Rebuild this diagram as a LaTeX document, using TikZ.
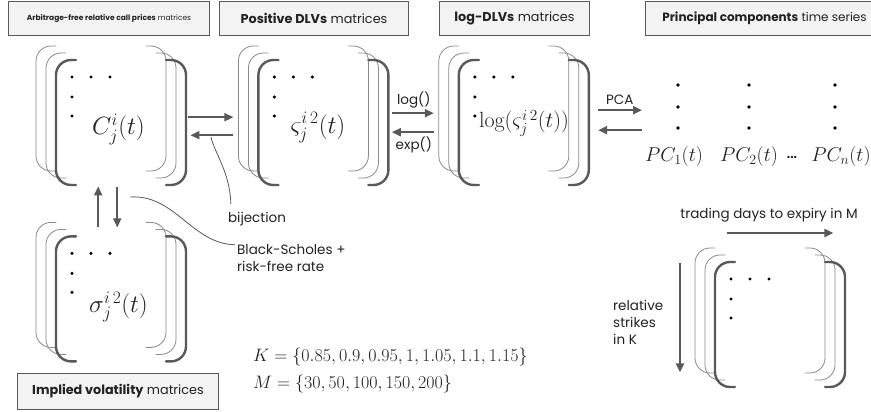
\RequirePackage{fix-cm}
\documentclass[tikz,border=0pt]{standalone}
\usepackage{fontspec}
\setsansfont{Poppins}
\usepackage{tikz}
\usetikzlibrary{arrows.meta, positioning, calc}
\definecolor{dvInk}{HTML}{222222}
\definecolor{dvLine}{HTML}{595959}
\definecolor{dvSoft}{HTML}{F3F3F3}
\definecolor{dvThin}{HTML}{8A8A8A}
\tikzset{
  dv-title/.style={
    rectangle, draw=dvLine, fill=dvSoft, line width=1pt,
    minimum height=34pt, inner sep=0pt, text=dvInk,
    font=\fontsize{12.8}{15}\selectfont\sffamily
  },
  dv-mat/.style={rectangle, minimum width=150pt, minimum height=139pt, inner sep=0pt},
  dv-math/.style={inner sep=0pt, text=dvInk},
  dv-lbl/.style={inner sep=2pt, text=dvInk, font=\fontsize{13.5}{17}\selectfont\sffamily},
  dv-flow/.style={-{Triangle[length=9pt,width=8pt]}, line width=2pt, draw=dvLine},
  dv-link/.style={draw=dvLine, line width=0.8pt},
}
\newcommand{\dvstack}[1]{%
  \foreach \k/\lw/\lc in {2/0.8pt/dvThin,1/0.8pt/dvThin,0/2.4pt/dvLine}{%
    \draw[line width=\lw, draw=\lc, rounded corners=15pt, line cap=round]
      ($(#1.north west)+(40-10*\k,14-7*\k)$) -- ++(-20,0) -- ++(0,125) -- ++(20,0);
    \draw[line width=\lw, draw=\lc, rounded corners=15pt, line cap=round]
      ($(#1.north west)+(130-10*\k,14-7*\k)$) -- ++(20,0) -- ++(0,125) -- ++(-20,0);
  }
  \foreach \dx/\dy in {36/31,55/31,74/31,36/51,36/70}
    \fill[black] ($(#1.north west)+(\dx,\dy)$) circle[radius=1.7pt];
}

\begin{document}
\begin{tikzpicture}[x=1pt, y=-1pt, font=\sffamily]
  \path[use as bounding box, fill=white] (0,0) rectangle (871,412);

  \node[dv-title, minimum width=201pt, anchor=north west,
        font=\fontsize{7.5}{9}\selectfont\sffamily]         (tC) at (8,1) {\textbf{Arbitrage-free relative call prices} matrices};
  \node[dv-title, minimum width=189pt, right=9pt of tC]  (tS) {\textbf{Positive DLVs} matrices};
  \node[dv-title, minimum width=150pt, right=30pt of tS] (tL) {\textbf{log-DLVs} matrices};
  \node[dv-title, minimum width=238pt, right=55pt of tL,
        font=\fontsize{12}{15}\selectfont\sffamily]        (tP) {\textbf{Principal components} time series};
  \node[dv-title, minimum width=201pt, minimum height=36pt,
        anchor=north west]                                (tV) at (17,373) {\textbf{Implied volatility} matrices};

  \node[dv-mat, anchor=north west] (mC) at (36,46) {};
  \node[dv-mat, right=52pt of mC]  (mS) {};
  \node[dv-mat, right=50pt of mS]  (mL) {};
  \node[dv-mat, below=37pt of mC]  (mV) {};
  \node[dv-mat, anchor=north west] (mX) at (695,248) {};
  \dvstack{mC}
  \dvstack{mS}
  \dvstack{mL}
  \dvstack{mV}
  \dvstack{mX}

  \node[dv-math, font=\fontsize{25}{30}\selectfont, anchor=base west] (eC) at ($(mC.north west)+(56,89)$) {$C_j^i(t)$};
  \node[dv-math, font=\fontsize{25}{30}\selectfont, anchor=base west] (eS) at ($(mS.north west)+(52,87)$) {$\varsigma_j^{i\,2}(t)$};
  \node[dv-math, font=\fontsize{22}{26}\selectfont, anchor=base west] (eL) at ($(mL.north west)+(40,82)$) {$\log(\varsigma_j^{i\,2}(t))$};
  \node[dv-math, font=\fontsize{25}{30}\selectfont, anchor=base west] (eV) at ($(mV.north west)+(53,90)$) {$\sigma_j^{i\,2}(t)$};

  \node[minimum width=229pt, minimum height=100pt, inner sep=0pt, anchor=north west] (pcb) at (642,72) {};
  \foreach \cx in {678,749,835}
    \foreach \cy in {85,107,128}
      \fill[black] (\cx,\cy) circle[radius=1.8pt];
  \node[dv-math, font=\fontsize{20}{24}\selectfont] (pc1) at (674,157) {$PC_1(t)$};
  \node[dv-math, font=\fontsize{20}{24}\selectfont] (pc2) at (749,157) {$PC_2(t)$};
  \node[dv-lbl, font=\fontsize{12}{14}\selectfont\sffamily\bfseries] (pcd) at (792,157) {...};
  \node[dv-math, font=\fontsize{20}{24}\selectfont] (pcn) at (841,157) {$PC_n(t)$};

  \draw[dv-flow, shorten <=2pt, shorten >=5pt] ([yshift=-1.5pt]mC.east) -- ([yshift=-1.5pt]mS.west);
  \draw[dv-flow, shorten <=5pt, shorten >=4pt] ([yshift=-19.5pt]mS.west) -- ([yshift=-19.5pt]mC.east);
  \draw[dv-flow, shorten <=3pt, shorten >=5pt] ([yshift=2.5pt]mS.east) -- node[dv-lbl, above=2pt]{log()} ([yshift=2.5pt]mL.west);
  \draw[dv-flow, shorten <=5pt, shorten >=3pt] ([yshift=-16.5pt]mL.west) -- node[dv-lbl, below=2pt]{exp()} ([yshift=-16.5pt]mS.east);
  \draw[dv-flow, shorten <=9pt] ([yshift=5.5pt]mL.east) -- node[dv-lbl, above=3pt, pos=0.58]{PCA} ([yshift=5.5pt]mL.east -| pcb.west);
  \draw[dv-flow, shorten >=9pt] ([yshift=-14.5pt]mL.east -| pcb.west) -- ([yshift=-14.5pt]mL.east);
  \draw[dv-flow, shorten >=1pt] ([xshift=-13pt, yshift=-5pt]mV.north) -- ([xshift=-13pt]mV.north |- mC.south);
  \draw[dv-flow, shorten <=2pt] ([xshift=6pt]mC.south) -- ([xshift=6pt, yshift=-5pt]mV.north);

  \coordinate (bjs) at (211,137);
  \node[dv-lbl] (bij) at (257,219) {bijection};
  \draw[dv-link] (bjs) .. controls (214,152) and (230,172) .. ([shift={(5,-6)}]bij.north west);
  \coordinate (bss) at (130,197);
  \node[dv-lbl, align=left, anchor=west] (bs) at (235,258) {Black-Scholes +\\risk-free rate};
  \draw[dv-link] (bss) .. controls (175,194) and (192,244) .. ([shift={(0,2.5)}]bs.north west);

  \node[dv-math, font=\fontsize{18}{22}\selectfont, anchor=west] (fK) at (253,357) {$K=\{0.85,0.9,0.95,1,1.05,1.1,1.15\}$};
  \node[dv-math, font=\fontsize{18}{22}\selectfont, anchor=west] (fM) at (253,384) {$M=\{30,50,100,150,200\}$};

  \node[dv-lbl] (tdays) at (769,215) {trading days to expiry in M};
  \draw[dv-flow] ([shift={(32,-15)}]mX.north west) -- ([shift={(-12,-15)}]mX.north east);
  \draw[dv-flow] ([shift={(-15,15)}]mX.north west) -- ([shift={(-15,-15)}]mX.south west);
  \node[dv-lbl, align=left, anchor=west] (strk) at (611,322) {relative\\strikes\\in K};
\end{tikzpicture}
\end{document}
